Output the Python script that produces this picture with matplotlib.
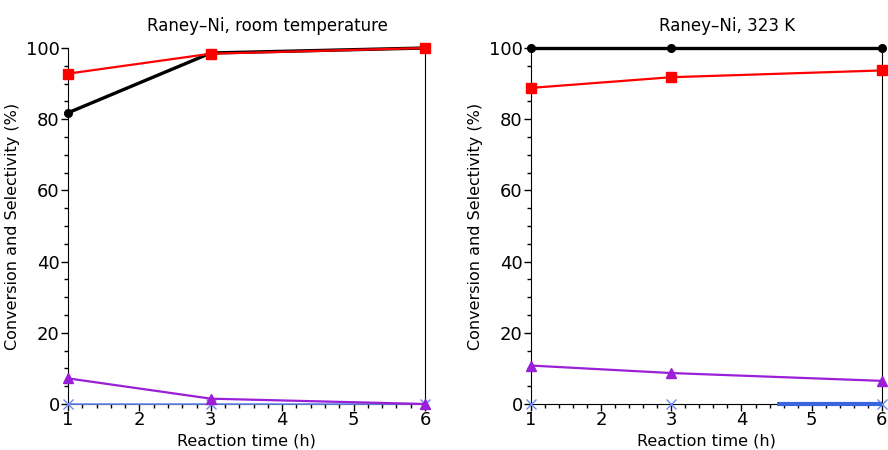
import matplotlib
matplotlib.use('Agg')
import matplotlib.pyplot as plt
from matplotlib.ticker import MultipleLocator

plt.rcParams['font.family'] = ['DejaVu Sans']

# reaction time (h)
t = [1, 3, 6]

# Raney-Ni, room temperature
rt_conv = [81.8, 98.6, 100.0]
rt_sel = [92.8, 98.4, 100.0]
rt_side = [7.2, 1.5, 0.0]
rt_other = [0.0, 0.0, 0.0]

# Raney-Ni, 323 K
hot_conv = [100.0, 100.0, 100.0]
hot_sel = [88.8, 91.8, 93.7]
hot_side = [10.8, 8.7, 6.5]
hot_other = [0.0, 0.0, 0.0]
hot_other_seg_t = [4.5, 6.0]
hot_other_seg = [0.0, 0.0]

titles = ['Raney\u2013Ni, room temperature', 'Raney\u2013Ni, 323 K']

fig = plt.figure(figsize=(8.88, 4.5), dpi=100)
ax1 = fig.add_axes([0.0766, 0.1022, 0.402, 0.7911])
ax2 = fig.add_axes([0.598, 0.1022, 0.395, 0.7911])


def draw(ax, conv, sel, side, other, title, other_line=True):
    ax.plot(t, other, color='#6a8cf0', lw=1.2 if other_line else 0,
            marker='x', ms=7, mew=1.0, clip_on=False, zorder=3)
    ax.plot(t, side, color='#9a1fd6', lw=1.6, marker='^', ms=7,
            clip_on=False, zorder=4)
    ax.plot(t, conv, color='black', lw=2.4, marker='o', ms=5.5,
            clip_on=False, zorder=5)
    ax.plot(t, sel, color='#ff0000', lw=1.6, marker='s', ms=6.5,
            clip_on=False, zorder=6)
    ax.set_xlim(1, 6)
    ax.set_ylim(0, 100)
    ax.spines['top'].set_visible(False)
    ax.xaxis.set_major_locator(MultipleLocator(1))
    ax.xaxis.set_minor_locator(MultipleLocator(0.2))
    ax.yaxis.set_major_locator(MultipleLocator(20))
    ax.yaxis.set_minor_locator(MultipleLocator(5))
    ax.tick_params(which='major', length=5, width=1, labelsize=13)
    ax.tick_params(which='minor', length=3, width=1)
    ax.tick_params(axis='x', pad=0)
    ax.tick_params(axis='y', right=False, pad=1)
    ax.set_xlabel('Reaction time (h)', fontsize=11.5, labelpad=3)
    ax.set_ylabel('Conversion and Selectivity (%)', fontsize=11.5, labelpad=4)
    ax.set_title(title, fontsize=12, pad=12, x=0.56)


draw(ax1, rt_conv, rt_sel, rt_side, rt_other, titles[0])
draw(ax2, hot_conv, hot_sel, hot_side, hot_other, titles[1], other_line=False)
ax2.plot(hot_other_seg_t, hot_other_seg, color='#3a66dd', lw=3,
         solid_capstyle='butt', clip_on=False, zorder=3)

fig.savefig('out.png', dpi=100)
